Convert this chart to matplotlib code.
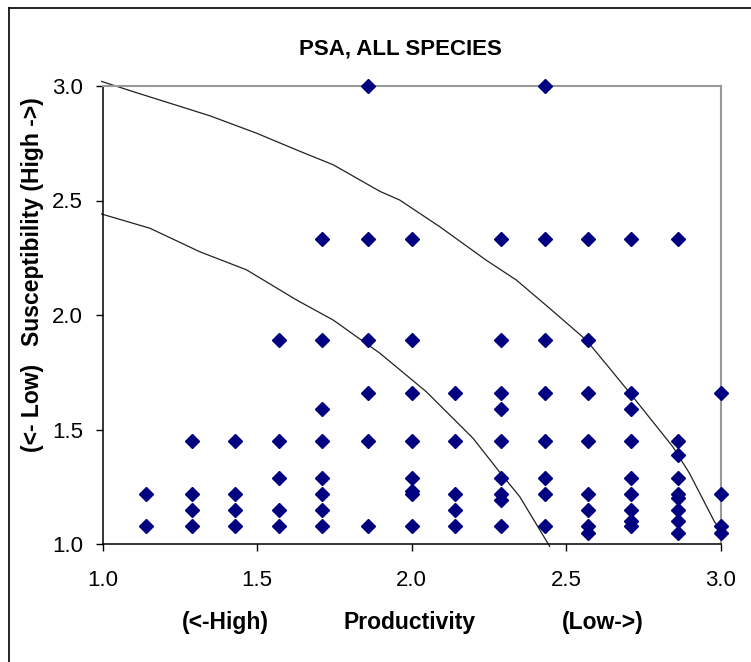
import matplotlib
matplotlib.use('Agg')
import matplotlib.pyplot as plt
from matplotlib.lines import Line2D

plt.rcParams['font.family'] = ['Liberation Sans', 'DejaVu Sans']

# PSA scores (productivity, susceptibility)
productivity = [
    1.14, 1.14,
    1.29, 1.29, 1.29, 1.29,
    1.43, 1.43, 1.43, 1.43,
    1.57, 1.57, 1.57, 1.57, 1.57,
    1.71, 1.71, 1.71, 1.71, 1.71, 1.71, 1.71, 1.71,
    1.86, 1.86, 1.86, 1.86, 1.86, 1.86,
    2.00, 2.00, 2.00, 2.00, 2.00, 2.00, 2.00, 2.00,
    2.14, 2.14, 2.14, 2.14, 2.14,
    2.29, 2.29, 2.29, 2.29, 2.29, 2.29, 2.29, 2.29, 2.29,
    2.43, 2.43, 2.43, 2.43, 2.43, 2.43, 2.43, 2.43,
    2.57, 2.57, 2.57, 2.57, 2.57, 2.57, 2.57, 2.57,
    2.71, 2.71, 2.71, 2.71, 2.71, 2.71, 2.71, 2.71, 2.71,
    2.86, 2.86, 2.86, 2.86, 2.86, 2.86, 2.86, 2.86, 2.86,
    3.00, 3.00, 3.00, 3.00,
]
susceptibility = [
    1.22, 1.08,
    1.45, 1.22, 1.15, 1.08,
    1.45, 1.22, 1.15, 1.08,
    1.89, 1.45, 1.29, 1.15, 1.08,
    2.33, 1.89, 1.59, 1.45, 1.29, 1.22, 1.15, 1.08,
    3.00, 2.33, 1.89, 1.66, 1.45, 1.08,
    2.33, 1.89, 1.66, 1.45, 1.29, 1.22, 1.23, 1.08,
    1.66, 1.45, 1.22, 1.15, 1.08,
    2.33, 1.89, 1.66, 1.59, 1.45, 1.29, 1.22, 1.19, 1.08,
    3.00, 2.33, 1.89, 1.66, 1.45, 1.29, 1.22, 1.08,
    2.33, 1.89, 1.66, 1.45, 1.22, 1.15, 1.08, 1.05,
    2.33, 1.66, 1.59, 1.45, 1.29, 1.22, 1.15, 1.10, 1.08,
    2.33, 1.45, 1.39, 1.29, 1.22, 1.20, 1.15, 1.10, 1.05,
    1.66, 1.22, 1.08, 1.05,
]

# threshold curves
outer_x = [0.997, 1.10, 1.347, 1.498, 1.638, 1.746, 1.897, 1.961, 2.09, 2.24,
           2.338, 2.446, 2.564, 2.64, 2.715, 2.844, 2.898, 2.979, 3.0]
outer_y = [3.02, 2.975, 2.87, 2.794, 2.715, 2.656, 2.54, 2.502, 2.386, 2.24,
           2.153, 2.029, 1.891, 1.767, 1.643, 1.425, 1.309, 1.097, 1.06]
inner_x = [0.997, 1.153, 1.315, 1.466, 1.627, 1.746, 1.897, 2.047, 2.198,
           2.279, 2.349, 2.446]
inner_y = [2.441, 2.379, 2.276, 2.197, 2.066, 1.978, 1.833, 1.665, 1.462,
           1.323, 1.207, 0.99]

ticks = [1.0, 1.5, 2.0, 2.5, 3.0]
tick_labels = ['1.0', '1.5', '2.0', '2.5', '3.0']

W, H = 751, 662
fig = plt.figure(figsize=(W / 100, H / 100), dpi=100)
ax = fig.add_axes([102.5 / W, 1 - 544 / H, (721 - 102.5) / W, (544 - 86) / H])

ax.plot(outer_x, outer_y, color='#222222', lw=0.9, clip_on=False, zorder=2)
ax.plot(inner_x, inner_y, color='#222222', lw=0.9, clip_on=False, zorder=2)
ax.plot(productivity, susceptibility, linestyle='none', marker='D', ms=6.8,
        color='#000080', mec='#000080', clip_on=False, zorder=3)

ax.set_xlim(1.0, 3.0)
ax.set_ylim(1.0, 3.0)
ax.set_xticks(ticks)
ax.set_xticklabels(tick_labels)
ax.set_yticks(ticks)
ax.set_yticklabels(tick_labels)
ax.tick_params(axis='both', direction='out', length=5, width=1, labelsize=16)
ax.tick_params(axis='x', pad=14)
ax.tick_params(axis='y', pad=9)

for side in ['left', 'bottom']:
    ax.spines[side].set_color('black')
    ax.spines[side].set_linewidth(1.1)
for side in ['top', 'right']:
    ax.spines[side].set_color('#999999')
    ax.spines[side].set_linewidth(1.5)

fig.text(400 / W, 1 - 49 / H, 'PSA, ALL SPECIES', ha='center', va='center',
         fontsize=16, fontweight='bold')
fig.text(225 / W, 1 - 623 / H, '(<-High)', ha='center', va='center',
         fontsize=16.5, fontweight='bold')
fig.text(410 / W, 1 - 623 / H, 'Productivity', ha='center', va='center',
         fontsize=16.5, fontweight='bold')
fig.text(603 / W, 1 - 623 / H, '(Low->)', ha='center', va='center',
         fontsize=16.5, fontweight='bold')
fig.text(33 / W, 1 - 408 / H, '(<- Low)', ha='center', va='center',
         rotation=90, fontsize=16.5, fontweight='bold')
fig.text(33 / W, 1 - 222 / H, 'Susceptibility (High ->)', ha='center', va='center',
         rotation=90, fontsize=16.5, fontweight='bold')

# outer chart-area frame (only top and left edges visible)
fig.add_artist(Line2D([9 / W, 9 / W], [0, 1 - 8 / H], transform=fig.transFigure,
                      color='black', lw=1.2))
fig.add_artist(Line2D([9 / W, 1], [1 - 8 / H, 1 - 8 / H], transform=fig.transFigure,
                      color='black', lw=1.2))

fig.savefig('out.png', dpi=100)
